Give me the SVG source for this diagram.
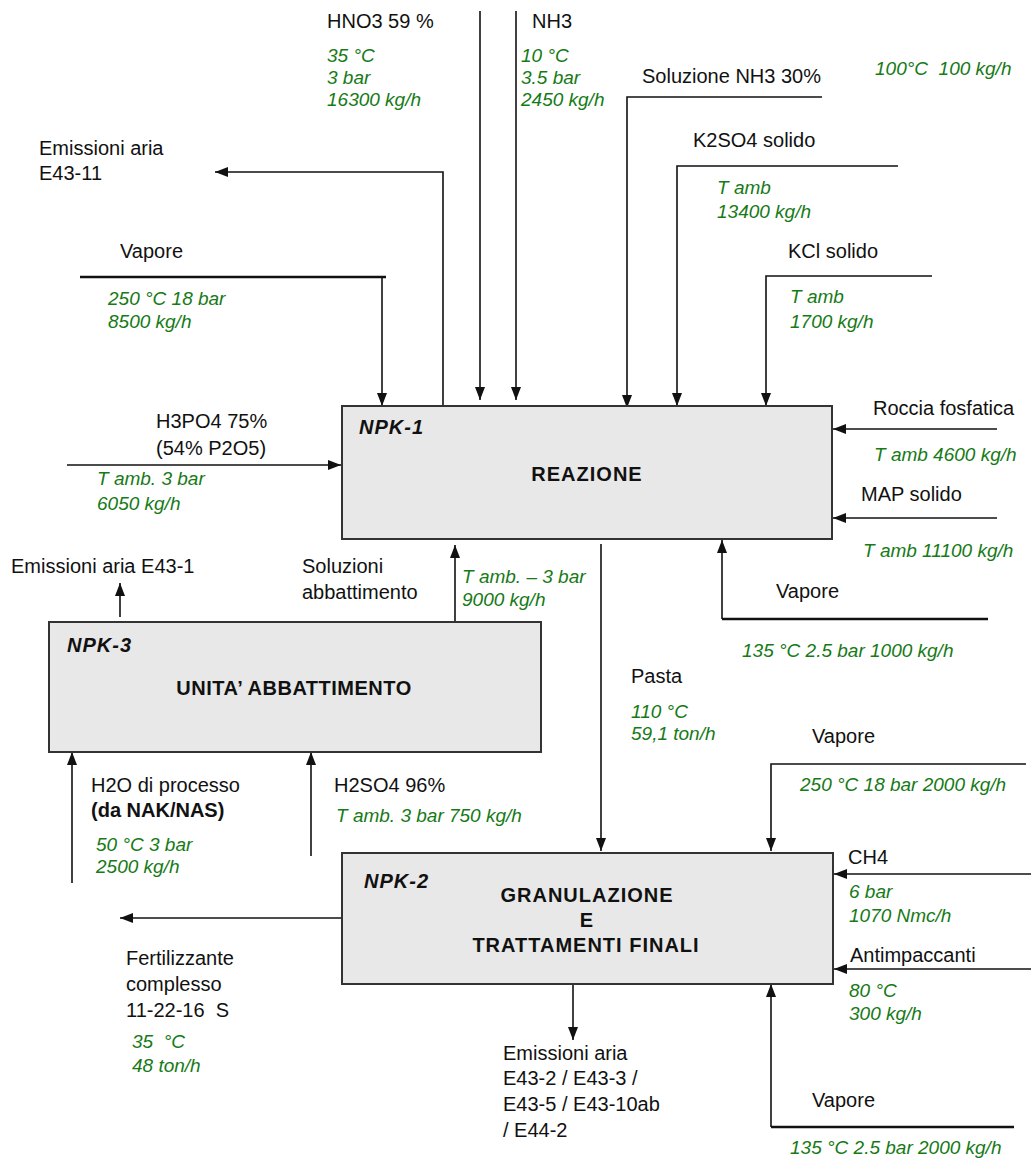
<svg xmlns="http://www.w3.org/2000/svg" width="1031" height="1160" viewBox="0 0 1031 1160">
<style>
.t{font-family:"Liberation Sans",Arial,sans-serif;font-size:20px;fill:#111;white-space:pre}
.g{font-family:"Liberation Sans",Arial,sans-serif;font-size:19px;font-style:italic;fill:#167a16;white-space:pre}
.id{font-family:"Liberation Sans",Arial,sans-serif;font-size:20px;font-weight:bold;font-style:italic;fill:#111;letter-spacing:1px}
.h{font-family:"Liberation Sans",Arial,sans-serif;font-size:20px;font-weight:bold;fill:#111;letter-spacing:1px;text-anchor:middle}
.box{fill:#e8e8e8;stroke:#333;stroke-width:2}
.ln{fill:none;stroke:#111;stroke-width:1.6}
.thick{fill:none;stroke:#111;stroke-width:2.6}
</style>
<defs>
<marker id="ah" markerUnits="userSpaceOnUse" markerWidth="13" markerHeight="10" refX="13" refY="5" orient="auto">
<path d="M0,0 L13,5 L0,10 z" fill="#111"/>
</marker>
</defs>
<rect width="1031" height="1160" fill="#fff"/>

<g id="connectors">
<path class="ln" d="M480,11 V400" marker-end="url(#ah)"/>
<path class="ln" d="M516,11 V400" marker-end="url(#ah)"/>
<path class="ln" d="M443,406 V172 H215" marker-end="url(#ah)"/>
<path class="thick" d="M80,277 H386"/>
<path class="ln" d="M382,277 V406" marker-end="url(#ah)"/>
<path class="ln" d="M822,97 H627 V408" marker-end="url(#ah)"/>
<path class="ln" d="M898,166 H677 V406" marker-end="url(#ah)"/>
<path class="ln" d="M932,276 H766 V406" marker-end="url(#ah)"/>
<path class="ln" d="M67,465 H341" marker-end="url(#ah)"/>
<path class="ln" d="M997,429 H833" marker-end="url(#ah)"/>
<path class="ln" d="M997,518 H833" marker-end="url(#ah)"/>
<path class="thick" d="M988,619 H722"/>
<path class="ln" d="M722,619 V540" marker-end="url(#ah)"/>
<path class="ln" d="M601,544 V851" marker-end="url(#ah)"/>
<path class="ln" d="M455,624 V545" marker-end="url(#ah)"/>
<path class="ln" d="M120,617 V583" marker-end="url(#ah)"/>
<path class="ln" d="M72,883 V752" marker-end="url(#ah)"/>
<path class="ln" d="M311,856 V752" marker-end="url(#ah)"/>
<path class="ln" d="M342,918 H120" marker-end="url(#ah)"/>
<path class="ln" d="M573,984 V1040" marker-end="url(#ah)"/>
<path class="ln" d="M1026,764 H771 V851" marker-end="url(#ah)"/>
<path class="ln" d="M1031,874 H834" marker-end="url(#ah)"/>
<path class="ln" d="M1031,969 H834" marker-end="url(#ah)"/>
<path class="thick" d="M1014,1127 H771"/>
<path class="ln" d="M771,1127 V984" marker-end="url(#ah)"/>
</g>

<g id="npk1">
<rect class="box" x="342" y="406" width="490" height="133"/>
<text class="id" x="359" y="434">NPK-1</text>
<text class="h" x="587" y="481">REAZIONE</text>
</g>
<g id="npk3">
<rect class="box" x="49" y="622" width="492" height="130"/>
<text class="id" x="67" y="652">NPK-3</text>
<text class="h" x="294" y="695" style="letter-spacing:0.5px">UNITA’ ABBATTIMENTO</text>
</g>
<g id="npk2">
<rect class="box" x="342" y="853" width="491" height="131"/>
<text class="id" x="364" y="888">NPK-2</text>
<text class="h" x="587" y="902">GRANULAZIONE</text>
<text class="h" x="587" y="927">E</text>
<text class="h" x="586" y="952">TRATTAMENTI FINALI</text>
</g>

<g id="labels" xml:space="preserve">
<text class="t" x="327" y="28">HNO3 59 %</text>
<text class="g" x="327" y="62">35 °C</text>
<text class="g" x="327" y="84">3 bar</text>
<text class="g" x="327" y="106">16300 kg/h</text>

<text class="t" x="532" y="28">NH3</text>
<text class="g" x="521" y="62">10 °C</text>
<text class="g" x="521" y="84">3.5 bar</text>
<text class="g" x="521" y="106">2450 kg/h</text>

<text class="t" x="642" y="83">Soluzione NH3 30%</text>
<text class="g" x="875" y="75">100°C  100 kg/h</text>

<text class="t" x="39" y="155">Emissioni aria</text>
<text class="t" x="39" y="180">E43-11</text>

<text class="t" x="693" y="147">K2SO4 solido</text>
<text class="g" x="717" y="194">T amb</text>
<text class="g" x="717" y="218">13400 kg/h</text>

<text class="t" x="120" y="258">Vapore</text>
<text class="g" x="108" y="305">250 °C 18 bar</text>
<text class="g" x="108" y="328">8500 kg/h</text>

<text class="t" x="788" y="258">KCl solido</text>
<text class="g" x="790" y="303">T amb</text>
<text class="g" x="790" y="328">1700 kg/h</text>

<text class="t" x="156" y="428">H3PO4 75%</text>
<text class="t" x="156" y="455">(54% P2O5)</text>
<text class="g" x="97" y="485">T amb. 3 bar</text>
<text class="g" x="97" y="510">6050 kg/h</text>

<text class="t" x="873" y="415">Roccia fosfatica</text>
<text class="g" x="874" y="461">T amb 4600 kg/h</text>
<text class="t" x="861" y="501">MAP solido</text>
<text class="g" x="863" y="557">T amb 11100 kg/h</text>

<text class="t" x="11" y="573">Emissioni aria E43-1</text>
<text class="t" x="302" y="573">Soluzioni</text>
<text class="t" x="302" y="599">abbattimento</text>
<text class="g" x="462" y="583">T amb. – 3 bar</text>
<text class="g" x="462" y="606">9000 kg/h</text>

<text class="t" x="776" y="598">Vapore</text>
<text class="g" x="742" y="657">135 °C 2.5 bar 1000 kg/h</text>

<text class="t" x="631" y="683">Pasta</text>
<text class="g" x="631" y="718">110 °C</text>
<text class="g" x="631" y="740">59,1 ton/h</text>

<text class="t" x="812" y="743">Vapore</text>
<text class="g" x="800" y="791">250 °C 18 bar 2000 kg/h</text>

<text class="t" x="91" y="792">H2O di processo</text>
<text class="t" x="91" y="817" font-weight="bold">(da NAK/NAS)</text>
<text class="g" x="96" y="851">50 °C 3 bar</text>
<text class="g" x="96" y="873">2500 kg/h</text>

<text class="t" x="334" y="792">H2SO4 96%</text>
<text class="g" x="336" y="822">T amb. 3 bar 750 kg/h</text>

<text class="t" x="848" y="864">CH4</text>
<text class="g" x="849" y="898">6 bar</text>
<text class="g" x="849" y="922">1070 Nmc/h</text>
<text class="t" x="850" y="962">Antimpaccanti</text>
<text class="g" x="849" y="997">80 °C</text>
<text class="g" x="849" y="1020">300 kg/h</text>

<text class="t" x="126" y="965">Fertilizzante</text>
<text class="t" x="126" y="991">complesso</text>
<text class="t" x="126" y="1017">11-22-16  S</text>
<text class="g" x="132" y="1048">35  °C</text>
<text class="g" x="132" y="1072">48 ton/h</text>

<text class="t" x="503" y="1060">Emissioni aria</text>
<text class="t" x="503" y="1085">E43-2 / E43-3 /</text>
<text class="t" x="503" y="1111">E43-5 / E43-10ab</text>
<text class="t" x="503" y="1137">/ E44-2</text>

<text class="t" x="812" y="1107">Vapore</text>
<text class="g" x="790" y="1154">135 °C 2.5 bar 2000 kg/h</text>
</g>
</svg>
